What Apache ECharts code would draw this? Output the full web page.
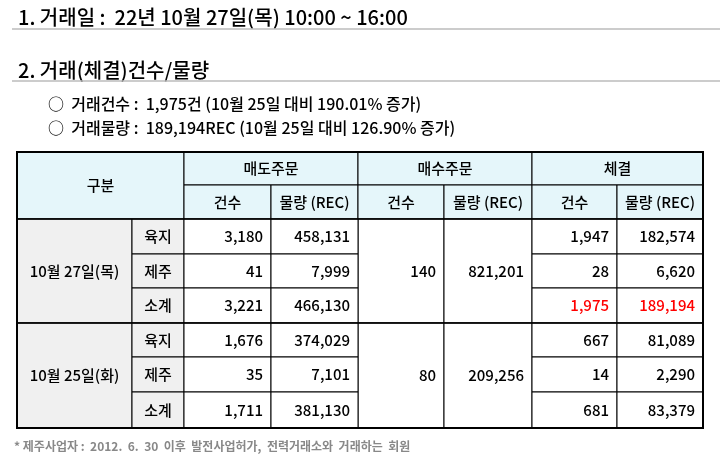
<!DOCTYPE html>
<html><head><meta charset="utf-8">
<script src="https://cdn.jsdelivr.net/npm/echarts@6/dist/echarts.min.js"></script>
<style>body{margin:0;background:#fff}#c{width:720px;height:462px}</style>
</head><body><div id="c"></div>
<script>
const title1 = '1. 거래일 :  22년 10월 27일(목) 10:00 ~ 16:00'
const title2 = '2. 거래(체결)건수/물량'
const bullets = ['○  거래건수 :  1,975건 (10월 25일 대비 190.01% 증가)', '○  거래물량 :  189,194REC (10월 25일 대비 126.90% 증가)']
const groups = ['매도주문', '매수주문', '체결']
const subHeads = ['건수', '물량 (REC)']
const dates = ['10월 27일(목)', '10월 25일(화)']
const regions = ['육지', '제주', '소계']
// 매도주문 건수/물량 per date
const sellCount = [[3180, 41, 3221], [1676, 35, 1711]]
const sellVol = [[458131, 7999, 466130], [374029, 7101, 381130]]
// 매수주문 (merged per date)
const buyCount = [140, 80]
const buyVol = [821201, 209256]
// 체결
const dealCount = [[1947, 28, 1975], [667, 14, 681]]
const dealVol = [[182574, 6620, 189194], [81089, 2290, 83379]]
const footnote = '* 제주사업자 :  2012.  6.  30  이후  발전사업허가,  전력거래소와  거래하는  회원'

const colX = [17, 132, 184, 271, 358, 444, 532, 617, 703]
const rowY = [152, 185, 219, 254, 288, 323, 357, 392, 428]
const font = '"Noto Sans CJK KR", sans-serif'
const fmt = v => v.toLocaleString('en-US')
const els = []
const rect = (x0, y0, x1, y1, fill) => els.push({type: 'rect', shape: {x: x0, y: y0, width: x1 - x0, height: y1 - y0}, style: {fill: fill, stroke: '#000', lineWidth: 1}})
const txt = (x, y, s, o) => els.push({type: 'text', x: x, y: y, style: Object.assign({text: s, font: '500 15px ' + font, fill: '#000', textAlign: 'center', textVerticalAlign: 'middle'}, o || {})})
const mid = (a, b) => (a + b) / 2

txt(18, 17, title1, {font: '500 20px ' + font, textAlign: 'left'})
els.push({type: 'line', shape: {x1: 12, y1: 29, x2: 720, y2: 29}, style: {stroke: '#bbb', lineWidth: 1.5}})
txt(18, 70, title2, {font: '500 20px ' + font, textAlign: 'left'})
els.push({type: 'line', shape: {x1: 12, y1: 81, x2: 720, y2: 81}, style: {stroke: '#bbb', lineWidth: 1.5}})
bullets.forEach((b, i) => txt(48, 104 + i * 24, b, {font: '500 16px ' + font, textAlign: 'left'}))

// header
const hdr = '#e5f6fa'
rect(colX[0], rowY[0], colX[2], rowY[2], hdr)
txt(mid(colX[0], colX[2]), mid(rowY[0], rowY[2]), '구분')
groups.forEach((g, i) => {
  const a = colX[2 + i * 2], b = colX[4 + i * 2]
  rect(a, rowY[0], b, rowY[1], hdr)
  txt(mid(a, b), mid(rowY[0], rowY[1]), g)
  subHeads.forEach((s, j) => {
    rect(colX[2 + i * 2 + j], rowY[1], colX[3 + i * 2 + j], rowY[2], hdr)
    txt(mid(colX[2 + i * 2 + j], colX[3 + i * 2 + j]), mid(rowY[1], rowY[2]), s)
  })
})

dates.forEach((d, di) => {
  const y0 = rowY[2 + di * 3], y3 = rowY[5 + di * 3]
  rect(colX[0], y0, colX[1], y3, '#f0f0f0')
  txt(mid(colX[0], colX[1]), mid(y0, y3), d)
  rect(colX[4], y0, colX[5], y3, '#fff')
  rect(colX[5], y0, colX[6], y3, '#fff')
  txt(colX[5] - 8, mid(y0, y3), fmt(buyCount[di]), {textAlign: 'right'})
  txt(colX[6] - 8, mid(y0, y3), fmt(buyVol[di]), {textAlign: 'right'})
  regions.forEach((r, ri) => {
    const ya = rowY[2 + di * 3 + ri], yb = rowY[3 + di * 3 + ri], ym = mid(ya, yb)
    rect(colX[1], ya, colX[2], yb, '#f0f0f0')
    txt(mid(colX[1], colX[2]), ym, r)
    const red = di === 0 && ri === 2
    const vals = [[2, sellCount[di][ri]], [3, sellVol[di][ri]], [6, dealCount[di][ri]], [7, dealVol[di][ri]]]
    vals.forEach(([c, v]) => {
      rect(colX[c], ya, colX[c + 1], yb, '#fff')
      txt(colX[c + 1] - 8, ym, fmt(v), {textAlign: 'right', fill: red && c >= 6 ? '#f00' : '#000'})
    })
  })
})
// thick outer border
els.push({type: 'rect', shape: {x: colX[0], y: rowY[0], width: colX[8] - colX[0], height: rowY[8] - rowY[0]}, style: {fill: 'none', stroke: '#000', lineWidth: 2}})
els.push({type: 'line', shape: {x1: colX[0], y1: rowY[5], x2: colX[8], y2: rowY[5]}, style: {stroke: '#000', lineWidth: 1.5}})
els.push({type: 'line', shape: {x1: colX[0], y1: rowY[2], x2: colX[8], y2: rowY[2]}, style: {stroke: '#000', lineWidth: 1.5}})
txt(14, 446, footnote, {font: 'bold 12px ' + font, textAlign: 'left', fill: '#888'})

const chart = echarts.init(document.getElementById('c'))
chart.setOption({animation: false, graphic: {elements: els}})
</script></body></html>
